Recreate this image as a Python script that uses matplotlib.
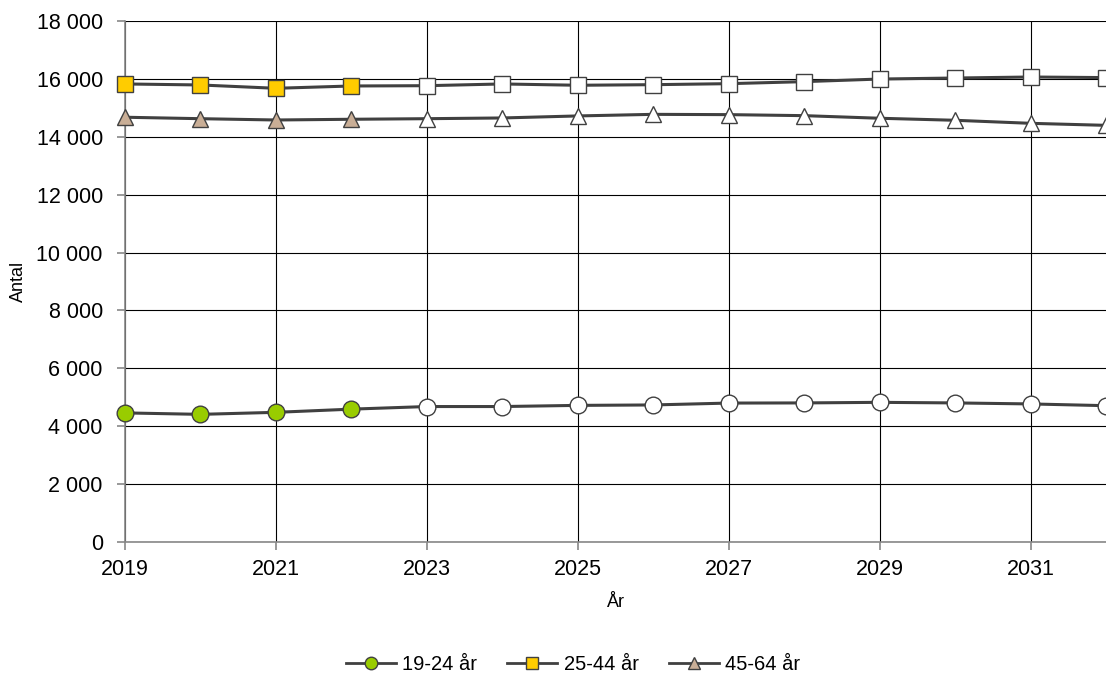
import numpy as np
import matplotlib
matplotlib.use("Agg")
import matplotlib.pyplot as plt
from matplotlib.lines import Line2D
from matplotlib.ticker import FuncFormatter

plt.rcParams['font.family'] = ['Liberation Sans', 'DejaVu Sans']

years = list(range(2019, 2033))
n_observed = 4  # 2019-2022 outcome, rest forecast

age_19_24 = [4460, 4410, 4480, 4590, 4680, 4680, 4720, 4735, 4800, 4805, 4825, 4805, 4770, 4710]
age_25_44 = [15825, 15790, 15675, 15755, 15765, 15825, 15780, 15800, 15835, 15905, 15995, 16030, 16065, 16045]
age_45_64 = [14675, 14625, 14580, 14605, 14625, 14650, 14720, 14775, 14765, 14730, 14640, 14570, 14465, 14395]

labels = ['19-24 år', '25-44 år', '45-64 år']
markers = ['o', 's', '^']
colors = ['#99CC00', '#FFCC00', '#C9AE96']

fig = plt.figure(figsize=(11.06, 6.75), dpi=100)
ax = fig.add_axes([125 / 1106, 1 - 542 / 675, 1 - 125 / 1106, (542 - 21) / 675])

line_col = '#404040'
edge_col = '#404040'

for vals, m, c in zip([age_19_24, age_25_44, age_45_64], markers, colors):
    ax.plot(years, vals, color=line_col, lw=2.2, zorder=3, clip_on=False)
    for i, (x, y) in enumerate(zip(years, vals)):
        fc = c if i < n_observed else 'white'
        ax.plot(x, y, marker=m, ms=12, mfc=fc, mec=edge_col, mew=1.0,
                ls='none', zorder=4, clip_on=False)

ax.set_xlim(2019, 2032)
ax.set_ylim(0, 18000)
ax.set_xticks(range(2019, 2032, 2))
ax.set_yticks(range(0, 18001, 2000))
ax.yaxis.set_major_formatter(FuncFormatter(lambda v, p: f"{int(v):,}".replace(",", " ")))

ax.grid(True, color='black', lw=0.8, zorder=1)
ax.set_axisbelow(True)
for s in ['top', 'right']:
    ax.spines[s].set_visible(False)
for s in ['left', 'bottom']:
    ax.spines[s].set_color('#888888')
    ax.spines[s].set_linewidth(1.2)
    ax.spines[s].set_zorder(2)
ax.tick_params(axis='both', colors='#888888', labelcolor='black', labelsize=15.5, length=6, width=1.2)
ax.tick_params(axis='y', pad=10)
ax.tick_params(axis='x', pad=6)

# y label placed by hand, the tick labels push it off the figure otherwise
fig.text(18 / 1106, 1 - 281 / 675, 'Antal', rotation=90, fontsize=13, ha='center', va='center')
ax.set_xlabel('År', fontsize=13, labelpad=10)

handles = [Line2D([0], [0], color=line_col, lw=2.0, marker=m, ms=9, mfc=c, mec=edge_col, mew=1.0)
           for m, c in zip(markers, colors)]
fig.legend(handles, labels, loc='center', bbox_to_anchor=(0.518, 1 - 665 / 675), ncol=3,
           frameon=False, fontsize=14.5, handlelength=2.5, handletextpad=0.3, columnspacing=1.5)

fig.savefig('out.png', dpi=100)
